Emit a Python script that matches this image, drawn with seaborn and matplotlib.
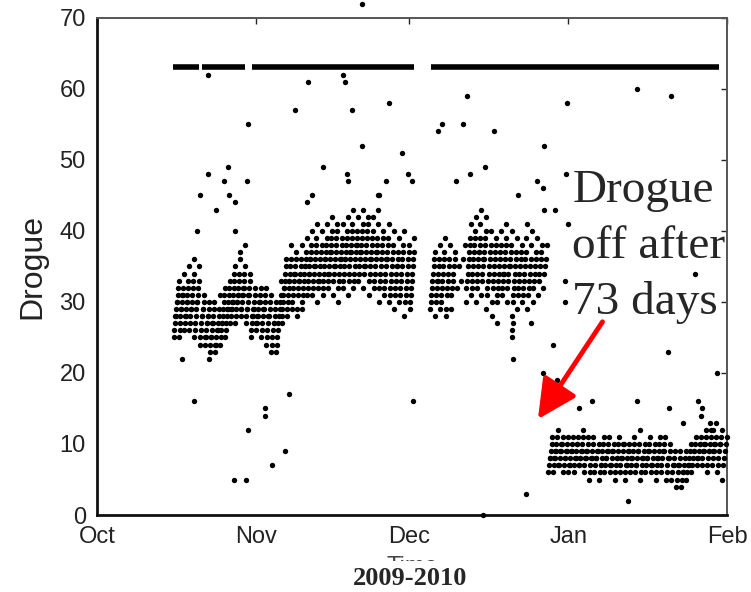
import numpy as np
import pandas as pd
import seaborn as sns
import matplotlib.pyplot as plt
import matplotlib.dates as mdates

start = pd.Timestamp("2009-10-01")

# daily drogue readings, day counted from 1 Oct 2009
days_a = list(range(15, 38))
vals_a = [
    [25, 26, 27, 28, 28, 29, 30, 30, 31, 32, 33],
    [25, 26, 27, 28, 29, 29, 30, 31, 31, 32, 34],
    [26, 27, 28, 28, 29, 30, 30, 31, 32, 33, 35],
    [26, 27, 28, 29, 29, 30, 31, 32, 33, 34, 36],
    [25, 26, 27, 28, 29, 30, 30, 31, 32, 33, 35],
    [24, 25, 26, 27, 28, 28, 29, 29, 30, 31],
    [24, 25, 25, 26, 27, 27, 28, 28, 29, 30],
    [23, 24, 25, 25, 26, 27, 27, 28, 29, 30],
    [23, 24, 24, 25, 26, 26, 27, 28, 29, 31],
    [24, 25, 26, 27, 27, 28, 29, 30, 31, 32],
    [25, 26, 27, 28, 29, 29, 30, 31, 32, 33],
    [27, 28, 29, 29, 30, 30, 31, 32, 33, 34, 35],
    [27, 28, 29, 30, 30, 31, 31, 32, 33, 34, 36, 37],
    [28, 29, 29, 30, 31, 31, 32, 32, 33, 34, 35, 38],
    [27, 28, 29, 29, 30, 31, 31, 32, 33, 34],
    [25, 26, 27, 28, 28, 29, 29, 30, 31, 32],
    [26, 27, 27, 28, 28, 29, 30, 30, 31, 32],
    [25, 26, 27, 28, 29, 29, 30, 31, 32],
    [24, 25, 26, 27, 28, 28, 29, 30, 31],
    [23, 24, 25, 26, 27, 27, 28, 29, 30],
    [23, 24, 25, 26, 27, 28, 29, 30, 31, 33],
    [27, 28, 29, 30, 31, 32, 32, 33, 34, 35, 36],
    [28, 29, 30, 31, 32, 33, 33, 34, 35, 36, 38],
]

days_b = list(range(38, 62))
vals_b = [
    [29, 30, 31, 32, 33, 34, 34, 35, 36, 37],
    [28, 29, 31, 32, 33, 33, 34, 35, 36, 38],
    [29, 30, 31, 32, 33, 34, 35, 35, 36, 37, 39],
    [31, 32, 33, 34, 34, 35, 36, 36, 37, 38, 40],
    [31, 32, 33, 34, 35, 35, 36, 37, 38, 39, 41],
    [30, 32, 33, 33, 34, 35, 36, 37, 38, 40],
    [31, 32, 33, 34, 35, 36, 36, 37, 38, 39, 41],
    [32, 33, 34, 34, 35, 36, 37, 37, 38, 39, 40, 42],
    [31, 33, 34, 35, 35, 36, 37, 38, 39, 40, 41],
    [30, 32, 33, 34, 35, 36, 36, 37, 38, 39, 41],
    [32, 33, 34, 35, 36, 36, 37, 38, 39, 40, 42],
    [31, 33, 34, 35, 36, 37, 37, 38, 39, 40, 41, 43],
    [32, 33, 34, 35, 36, 37, 38, 38, 39, 40, 42],
    [33, 34, 35, 36, 37, 37, 38, 39, 40, 41, 43],
    [32, 34, 35, 35, 36, 37, 38, 39, 40, 41, 42],
    [31, 33, 34, 35, 36, 36, 37, 38, 39, 40, 42],
    [32, 33, 34, 35, 36, 37, 37, 38, 39, 41, 43],
    [30, 32, 33, 34, 35, 36, 37, 38, 39, 40],
    [31, 32, 33, 34, 35, 36, 36, 37, 38, 39, 41],
    [30, 31, 32, 33, 34, 35, 36, 37, 38, 40],
    [29, 31, 32, 33, 34, 35, 35, 36, 37, 39],
    [30, 31, 32, 33, 34, 35, 36, 37, 38, 40],
    [28, 30, 31, 32, 33, 34, 35, 36, 37, 38],
    [29, 30, 31, 32, 33, 34, 35, 36, 37, 39],
]

days_c = list(range(65, 88))
vals_c = [
    [29, 30, 31, 32, 33, 34, 35, 36, 37],
    [28, 30, 31, 32, 33, 33, 34, 35, 36, 38],
    [29, 30, 31, 32, 33, 34, 35, 36, 37, 39],
    [28, 29, 31, 32, 33, 34, 35, 36, 38],
    [29, 31, 32, 33, 34, 35, 36, 37],
    [32, 35],
    [33, 36, 38],
    [30, 32, 33, 34, 35, 36, 37, 38, 39, 41],
    [31, 32, 33, 34, 35, 36, 37, 38, 39, 40, 42],
    [30, 32, 33, 34, 35, 36, 37, 37, 38, 39, 41, 43],
    [31, 33, 34, 35, 36, 36, 37, 38, 39, 40, 42],
    [29, 31, 32, 33, 34, 35, 36, 37, 38, 40],
    [28, 30, 32, 33, 34, 35, 36, 37, 38, 39],
    [30, 31, 32, 33, 34, 35, 36, 37, 38, 40],
    [31, 32, 33, 34, 34, 35, 36, 37, 38, 39, 41],
    [30, 32, 33, 34, 35, 35, 36, 37, 38, 40],
    [28, 30, 31, 32, 33, 34, 35, 36, 37, 39],
    [29, 31, 32, 33, 34, 35, 36, 37, 38],
    [30, 31, 32, 33, 34, 35, 36, 37, 39, 41],
    [29, 31, 32, 33, 34, 35, 36, 38, 40],
    [30, 32, 33, 34, 35, 36, 37, 39],
    [31, 33, 34, 35, 36, 37, 38],
    [32, 34, 35, 36, 38],
]

days_d = list(range(88, 123))
vals_d = [
    [6, 7, 8, 8, 9, 10, 11],
    [6, 7, 8, 8, 9, 9, 10, 11, 12],
    [7, 7, 8, 9, 9, 10, 10, 11],
    [6, 7, 8, 8, 9, 9, 10, 11],
    [6, 7, 7, 8, 9, 9, 10, 11],
    [6, 7, 8, 8, 9, 10, 10, 11],
    [7, 7, 8, 8, 9, 9, 10, 11, 12],
    [6, 7, 8, 8, 9, 9, 10, 11],
    [5, 6, 7, 8, 8, 9, 10, 11],
    [6, 7, 8, 8, 9, 9, 10],
    [5, 6, 7, 7, 8, 9, 10, 11],
    [6, 7, 8, 8, 9, 9, 10, 11],
    [6, 7, 7, 8, 9, 9, 10],
    [5, 6, 7, 8, 8, 9, 10, 11],
    [6, 7, 8, 8, 9, 10, 10],
    [5, 6, 7, 7, 8, 9, 9, 10],
    [6, 7, 8, 8, 9, 10, 11],
    [6, 7, 7, 8, 9, 9, 10, 12],
    [5, 6, 7, 8, 8, 9, 10],
    [6, 7, 8, 8, 9, 9, 10, 11],
    [6, 7, 7, 8, 9, 10],
    [5, 6, 7, 8, 8, 9, 10, 11],
    [6, 7, 8, 9, 9, 10, 11],
    [5, 6, 7, 8, 8, 9, 10],
    [5, 6, 7, 7, 8, 9],
    [4, 5, 6, 7, 7, 8, 9],
    [4, 5, 6, 6, 7, 8, 9],
    [5, 6, 7, 7, 8, 9, 10],
    [6, 7, 8, 9, 9, 10, 11],
    [7, 8, 8, 9, 10, 10, 11],
    [7, 8, 9, 9, 10, 10, 11, 12],
    [6, 7, 8, 9, 9, 10, 11, 12],
    [7, 8, 9, 9, 10, 10, 11, 13],
    [6, 7, 8, 9, 10, 10, 11, 12],
    [5, 7, 8, 9, 10, 11],
]

# readings stuck at the 63 flag value (start/end day of each run)
flag_value = 63
flag_start = [14.9, 20.6, 30.2, 65.3]
flag_end = [20.0, 29.0, 62.0, 121.5]

# isolated readings
out_day = [21.7, 41.2, 48.4, 48.0, 29.5, 38.7, 49.8, 51.8, 21.7, 25.6, 24.8, 29.3,
           20.1, 25.8, 27.0, 23.2, 44.1, 42.0, 41.0, 48.8, 49.0, 54.9, 19.5, 27.0,
           57.0, 72.3, 91.8, 105.5, 112.1, 59.6, 67.4, 66.6, 71.5, 77.5, 87.3, 75.8,
           60.7, 61.5, 56.4, 70.1, 72.9, 85.9, 87.1, 91.6, 55.1, 82.2, 87.3, 89.5,
           92.0, 91.4, 116.8, 91.4, 89.1, 87.1, 89.8, 111.5, 121.1, 61.7, 83.8, 103.7,
           75.4, 78.1, 81.3, 84.8, 81.1, 81.1, 81.3, 96.7, 94.1, 105.5, 111.7, 117.4,
           114.5, 118.0, 118.2, 119.7, 120.3, 18.9, 29.5, 32.8, 32.8, 37.5, 34.2, 36.7,
           26.8, 29.1, 16.6, 21.9, 51.8]
out_val = [62, 61, 61, 62, 55, 57, 57, 52, 48, 49, 47, 47,
           45, 45, 44, 43, 49, 45, 44, 48, 47, 45, 40, 40,
           58, 59, 58, 60, 59, 51, 55, 54, 55, 54, 52, 49,
           48, 47, 47, 47, 48, 47, 46, 48, 45, 45, 43, 43,
           41, 33, 34, 30, 24, 20, 19, 23, 20, 16, 3, 2,
           0, 27, 27, 27, 26, 25, 22, 16, 15, 16, 15, 16,
           13, 14, 15, 13, 12, 16, 12, 15, 14, 17, 7, 9,
           5, 5, 22, 22, 72]

rows = []
for days, vals in [(days_a, vals_a), (days_b, vals_b), (days_c, vals_c), (days_d, vals_d)]:
    for d, v in zip(days, vals):
        for i, x in enumerate(v):
            rows.append((d + (i + 0.5) / len(v), x))
rows += list(zip(out_day, out_val))
df = pd.DataFrame(rows, columns=["day", "drogue"])
df["time"] = start + pd.to_timedelta(df["day"], unit="D")


def when(d):
    return mdates.date2num(start + pd.Timedelta(days=d))


sns.set_style("white")
plt.rcParams["font.family"] = ["Liberation Sans", "DejaVu Sans"]

fig = plt.figure(figsize=(7.51, 5.92), dpi=100)
ax = fig.add_axes([0.129, 0.130, 0.839, 0.840])

sns.scatterplot(data=df, x="time", y="drogue", color="black", s=15,
                linewidth=0, marker="o", ax=ax, clip_on=False, zorder=3)
ax.hlines([flag_value] * len(flag_start), [when(d) for d in flag_start],
          [when(d) for d in flag_end], color="black", lw=4, zorder=3)

ax.set_xlim(when(0), when(123))
ax.set_ylim(0, 70)
ax.set_yticks(range(0, 71, 10))
ax.xaxis.set_major_locator(mdates.MonthLocator())
ax.xaxis.set_major_formatter(mdates.DateFormatter("%b"))
ax.tick_params(direction="in", top=True, right=True, length=4, width=1,
               labelsize=17, labelcolor="#222222", pad=8)
for name, sp in ax.spines.items():
    sp.set_linewidth(2.0 if name in ("left", "bottom") else 1.4)
    sp.set_color("#111111" if name in ("left", "bottom") else "#555555")
ax.set_ylabel("Drogue", fontsize=23, color="#222222", labelpad=9)
ax.set_xlabel("Time", fontsize=17, color="#444444", labelpad=6)

ax.text(when(92.8), 48.6, "Drogue\noff after\n73 days", family="Liberation Serif",
        fontsize=34, va="top", ha="left", linespacing=1.4, zorder=5)
ax.annotate("", xy=(when(86.1), 13.5), xytext=(when(98.7), 27.2),
            arrowprops=dict(arrowstyle="-|>,head_length=1.2,head_width=0.6",
                            color="red", lw=3.5, mutation_scale=20, shrinkA=0, shrinkB=0),
            zorder=6)

fig.text(0.546, 0.022, "2009-2010", family="Liberation Serif", fontweight="bold",
         fontsize=19, ha="center", va="center",
         bbox=dict(facecolor="white", edgecolor="none", pad=5), zorder=10)

fig.savefig("out.png", dpi=100)
